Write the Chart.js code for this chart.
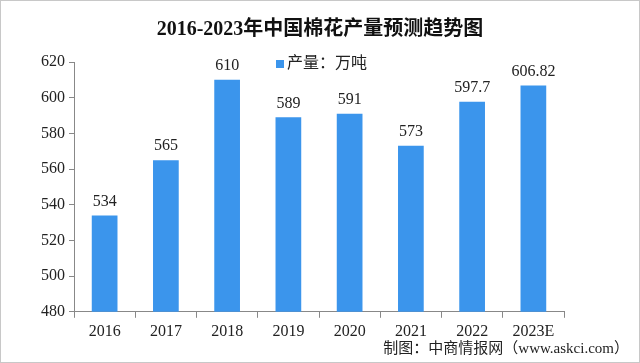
<!DOCTYPE html>
<html>
<head>
<meta charset="utf-8">
<script src="https://cdn.jsdelivr.net/npm/chart.js@4"></script>
<style>
    html, body { margin: 0; padding: 0; background: #fff; }
    #wrap { position: relative; width: 640px; height: 363px; box-sizing: border-box; border: 1px solid #c8c8c8; }
    #title { position: absolute; left: 0; right: 0; top: 11px; text-align: center; font: bold 20px "Liberation Serif", "Noto Sans CJK SC", serif; color: #111; }
    #footer { position: absolute; right: 10px; bottom: 5px; font: 15px "Liberation Serif", "Noto Sans CJK SC", serif; color: #222; }
</style>
</head>
<body>
<div id="wrap">
    <canvas id="chart" width="638" height="361"></canvas>
    <div id="title">2016-2023年中国棉花产量预测趋势图</div>
    <div id="footer">制图：中商情报网（www.askci.com）</div>
</div>
<script>
// 年份
const years = ['2016', '2017', '2018', '2019', '2020', '2021', '2022', '2023E'];
// 产量（万吨）
const output = [534, 565, 610, 589, 591, 573, 597.7, 606.82];
const outputLabels = ['534', '565', '610', '589', '591', '573', '597.7', '606.82'];
const yTicks = [480, 500, 520, 540, 560, 580, 600, 620];
const seriesName = '产量：万吨';

const FONT = '"Liberation Serif", "Noto Sans CJK SC", serif';
const BAR_COLOR = '#3b95ec';

// 柱顶数值 + 图例（放在绘图区顶部中间）
const valueLabels = {
    id: 'valueLabels',
    afterDatasetsDraw(chart) {
        const ctx = chart.ctx;
        const meta = chart.getDatasetMeta(0);
        ctx.save();
        ctx.font = '16px ' + FONT;
        ctx.fillStyle = '#222';
        ctx.textAlign = 'center';
        ctx.textBaseline = 'bottom';
        meta.data.forEach((bar, i) => {
            ctx.fillText(outputLabels[i], bar.x, bar.y - 6);
        });

        const area = chart.chartArea;
        ctx.textAlign = 'left';
        ctx.textBaseline = 'middle';
        const w = ctx.measureText(seriesName).width + 12;
        const x0 = (area.left + area.right) / 2 - w / 2 + 3;
        const y0 = area.top + 2;
        ctx.fillStyle = BAR_COLOR;
        ctx.fillRect(x0, y0 - 4, 8, 8);
        ctx.fillStyle = '#222';
        ctx.fillText(seriesName, x0 + 11, y0);
        ctx.restore();
    }
};

new Chart(document.getElementById('chart').getContext('2d'), {
    type: 'bar',
    data: {
        labels: years,
        datasets: [{
            label: seriesName,
            data: output,
            backgroundColor: BAR_COLOR,
            borderWidth: 0,
            categoryPercentage: 0.42,
            barPercentage: 1
        }]
    },
    options: {
        responsive: false,
        animation: false,
        layout: { padding: { left: 36, right: 75, top: 61, bottom: 17 } },
        plugins: {
            title: { display: false },
            legend: { display: false },
            tooltip: { enabled: false }
        },
        scales: {
            x: {
                grid: { display: true, drawOnChartArea: false, offset: true, color: '#888', tickLength: 6 },
                border: { color: '#888' },
                ticks: { color: '#222', font: { family: FONT, size: 16 }, padding: 4 }
            },
            y: {
                min: 480,
                max: 620,
                afterBuildTicks: axis => { axis.ticks = yTicks.map(v => ({ value: v })); },
                grid: { display: true, drawOnChartArea: false, color: '#888', tickLength: 5 },
                border: { color: '#888' },
                ticks: { color: '#222', font: { family: FONT, size: 16 }, padding: 4 }
            }
        }
    },
    plugins: [valueLabels]
});
</script>
</body>
</html>
